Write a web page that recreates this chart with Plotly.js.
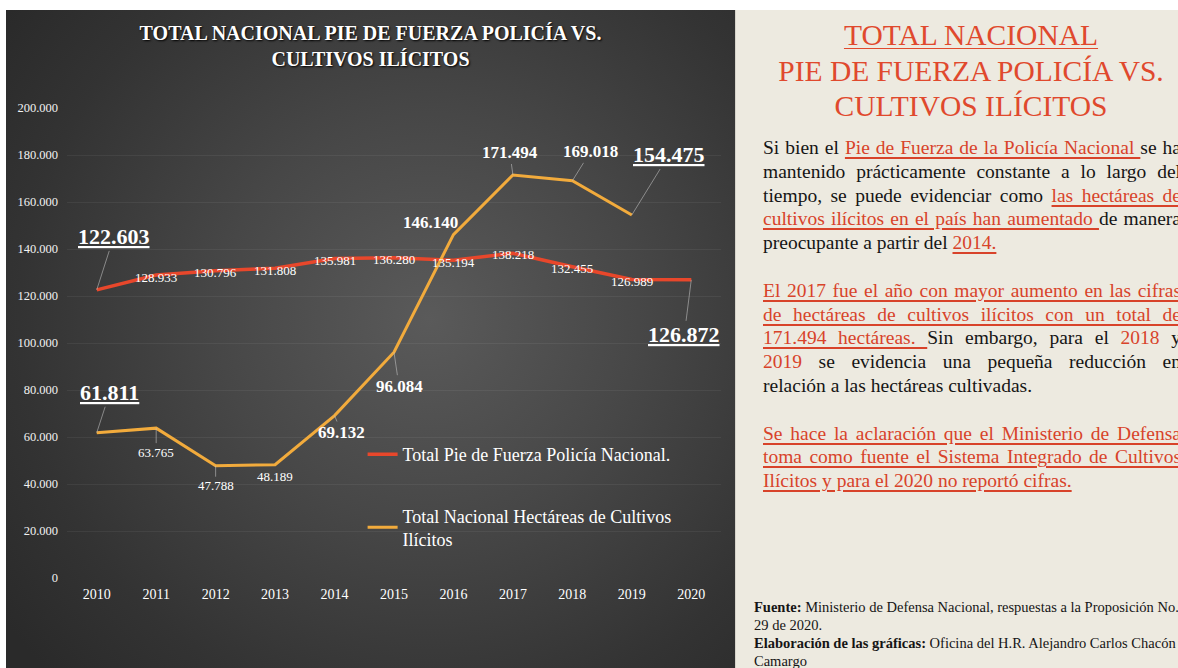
<!DOCTYPE html>
<html>
<head>
<meta charset="utf-8">
<script src="https://cdn.plot.ly/plotly-3.0.1.min.js"></script>
<style>
  html, body { margin:0; padding:0; width:1178px; height:668px; overflow:hidden; background:#ffffff; }
  #chartbox { position:absolute; left:6px; top:10px; width:729px; height:658px;
    background: radial-gradient(ellipse 72% 78% at 58% 47%, #5a5a5a 0%, #474747 40%, #333333 78%, #2a2a2a 100%); }
  #chart { position:absolute; left:0; top:0; width:729px; height:658px; }
  #panel { position:absolute; left:735px; top:10px; width:443px; height:658px; background:#edeae0;
    border-left:1px solid #d6d3ca; font-family:"Liberation Serif","Times New Roman",serif; color:#151515; }
  #ptitle { position:absolute; left:17px; top:8px; width:436px; text-align:center; color:#e0492d;
    font-size:29.5px; line-height:35.5px; }
  #ptitle .u { text-decoration:underline; text-decoration-thickness:1px; text-underline-offset:3px; }
  #ptext { position:absolute; left:27px; top:126px; width:418px; font-size:19.5px; line-height:23.8px; }
  .ln { text-align:justify; text-align-last:justify; height:23.8px; }
  .ln.last { text-align-last:left; }
  .ln.blank { height:23.8px; }
  .r { color:#d8432a; }
  .ru { color:#d8432a; text-decoration:underline; text-decoration-thickness:1.5px; text-underline-offset:3px; }
  #foot { position:absolute; left:18px; top:588px; font-size:14.5px; line-height:18px; white-space:nowrap; }
</style>
</head>
<body>
<div id="chartbox"><div id="chart"></div></div>
<div id="panel">
  <div id="ptitle"><span class="u">TOTAL NACIONAL</span><br>PIE DE FUERZA POLICÍA VS.<br>CULTIVOS ILÍCITOS</div>
  <div id="ptext">
    <div class="ln">Si bien el <span class="ru">Pie de Fuerza de la Policía Nacional </span>se ha</div>
    <div class="ln">mantenido prácticamente constante a lo largo del</div>
    <div class="ln">tiempo, se puede evidenciar como <span class="ru">las hectáreas de</span></div>
    <div class="ln"><span class="ru">cultivos ilícitos en el país han aumentado </span>de manera</div>
    <div class="ln last">preocupante a partir del <span class="ru">2014.</span></div>
    <div class="ln blank"></div>
    <div class="ln"><span class="ru">El 2017 fue el año con mayor aumento en las cifras</span></div>
    <div class="ln"><span class="ru">de hectáreas de cultivos ilícitos con un total de</span></div>
    <div class="ln"><span class="ru">171.494 hectáreas. </span>Sin embargo, para el <span class="r">2018</span> y</div>
    <div class="ln"><span class="r">2019</span> se evidencia una pequeña reducción en</div>
    <div class="ln last">relación a las hectáreas cultivadas.</div>
    <div class="ln blank"></div>
    <div class="ln"><span class="ru">Se hace la aclaración que el Ministerio de Defensa</span></div>
    <div class="ln"><span class="ru">toma como fuente el Sistema Integrado de Cultivos</span></div>
    <div class="ln last"><span class="ru">Ilícitos y para el 2020 no reportó cifras.</span></div>
  </div>
  <div id="foot"><b>Fuente:</b> Ministerio de Defensa Nacional, respuestas a la Proposición No.<br>29 de 2020.<br><b>Elaboración de las gráficas:</b> Oficina del H.R. Alejandro Carlos Chacón<br>Camargo</div>
</div>
<script>
// ---- data ----
const years = ['2010','2011','2012','2013','2014','2015','2016','2017','2018','2019','2020'];
const piePolicia = [122603, 128933, 130796, 131808, 135981, 136280, 135194, 138218, 132455, 126989, 126872];
const hectareasCultivos = [61811, 63765, 47788, 48189, 69132, 96084, 146140, 171494, 169018, 154475, null];
const seriesNames = ['Total Pie de Fuerza Policía Nacional.', 'Total Nacional Hectáreas de Cultivos<br>Ilícitos'];
const yTicks = [0, 20000, 40000, 60000, 80000, 100000, 120000, 140000, 160000, 180000, 200000];

// ---- label styles (size class, offsets in px) ----
const polStyle = [
  {k:'b', ax:17, ay:-53, arrow:true},
  {k:'s', ax:0, ay:2}, {k:'s', ax:0, ay:2}, {k:'s', ax:0, ay:2}, {k:'s', ax:0, ay:2},
  {k:'s', ax:0, ay:2}, {k:'s', ax:0, ay:2}, {k:'s', ax:0, ay:1}, {k:'s', ax:0, ay:2},
  {k:'s', ax:0, ay:2},
  {k:'b', ax:-7, ay:55, arrow:true}
];
const culStyle = [
  {k:'b', ax:13, ay:-40, arrow:true},
  {k:'s', ax:0, ay:24, arrow:true},
  {k:'s', ax:0, ay:20, arrow:true},
  {k:'s', ax:0, ay:12, arrow:false},
  {k:'m', ax:7, ay:17, arrow:true},
  {k:'m', ax:5, ay:34, arrow:true},
  {k:'m', ax:-23, ay:-12, arrow:false},
  {k:'m', ax:-3, ay:-22, arrow:true},
  {k:'m', ax:18, ay:-29, arrow:true},
  {k:'b', ax:37, ay:-60, arrow:true},
  null
];

function fmt(v){ return String(v).replace(/\B(?=(\d{3})+(?!\d))/g, '.'); }
const serif = 'Liberation Serif, Times New Roman, serif';

function makeAnn(xi, y, st){
  let text, size;
  if (st.k === 'b') { text = '<b><span style="text-decoration:underline;text-decoration-thickness:2px">' + fmt(y) + '</span></b>'; size = 22; }
  else if (st.k === 'm') { text = '<b>' + fmt(y) + '</b>'; size = 17; }
  else { text = fmt(y); size = 13; }
  const a = {
    x: xi, y: y, xref:'x', yref:'y', text: text,
    font: {family: serif, size: size, color: '#ffffff'},
    showarrow: !!st.arrow
  };
  if (st.arrow) {
    a.ax = st.ax; a.ay = st.ay; a.arrowhead = 0; a.arrowwidth = 0.8;
    a.arrowcolor = 'rgba(200,200,200,0.7)'; a.standoff = 0;
  } else {
    a.xshift = st.ax; a.yshift = -st.ay;
  }
  return a;
}

const annotations = [];
years.forEach((yr, i) => {
  if (piePolicia[i] != null && polStyle[i]) annotations.push(makeAnn(i, piePolicia[i], polStyle[i]));
  if (hectareasCultivos[i] != null && culStyle[i]) annotations.push(makeAnn(i, hectareasCultivos[i], culStyle[i]));
});

const traces = [
  {x: years, y: piePolicia, type:'scatter', mode:'lines', name: seriesNames[0], legendgroup:'a',
   line:{color:'#e8472b', width:3.5}, hoverinfo:'skip'},
  {x: years, y: hectareasCultivos, type:'scatter', mode:'lines', name: seriesNames[1], legendgroup:'b',
   line:{color:'#f2ab3c', width:3}, hoverinfo:'skip', connectgaps:false}
];

const layout = {
  width: 729, height: 658,
  paper_bgcolor: 'rgba(0,0,0,0)', plot_bgcolor: 'rgba(0,0,0,0)',
  separators: ',.',
  margin: {l:61, r:14, t:98, b:90},
  font: {family: serif, color:'#ffffff'},
  title: {
    text: '<b>TOTAL NACIONAL PIE DE FUERZA POLICÍA VS.<br>CULTIVOS ILÍCITOS</b>',
    x: 0.5, xref:'container', xanchor:'center',
    y: 0.955, yref:'container', yanchor:'top',
    font: {family: serif, size: 20, color:'#ffffff', shadow:'1px 1px 2px #000000'}
  },
  xaxis: {
    type:'category', range:[-0.5, 10.5], showgrid:false, zeroline:false, showline:false,
    ticks:'', tickfont:{family: serif, size:14, color:'#ffffff'}, ticklabelstandoff: 6, fixedrange:true
  },
  yaxis: {
    range:[0, 200000], tickvals: yTicks, ticktext: yTicks.map(fmt),
    showgrid:true, gridcolor:'rgba(255,255,255,0.06)', gridwidth:1, zeroline:false, showline:false,
    ticks:'', tickfont:{family: serif, size:12.5, color:'#f2f2f2'}, ticklabelstandoff: 8, fixedrange:true
  },
  showlegend: true,
  legend: {
    x: 0.452, y: 0.302, xanchor:'left', yanchor:'top',
    bgcolor:'rgba(0,0,0,0)', font:{family: serif, size:18, color:'#ffffff'},
    traceorder:'grouped', tracegroupgap: 35, itemwidth: 30
  },
  annotations: annotations
};

Plotly.newPlot('chart', traces, layout, {displayModeBar:false, staticPlot:true});
</script>
</body>
</html>
